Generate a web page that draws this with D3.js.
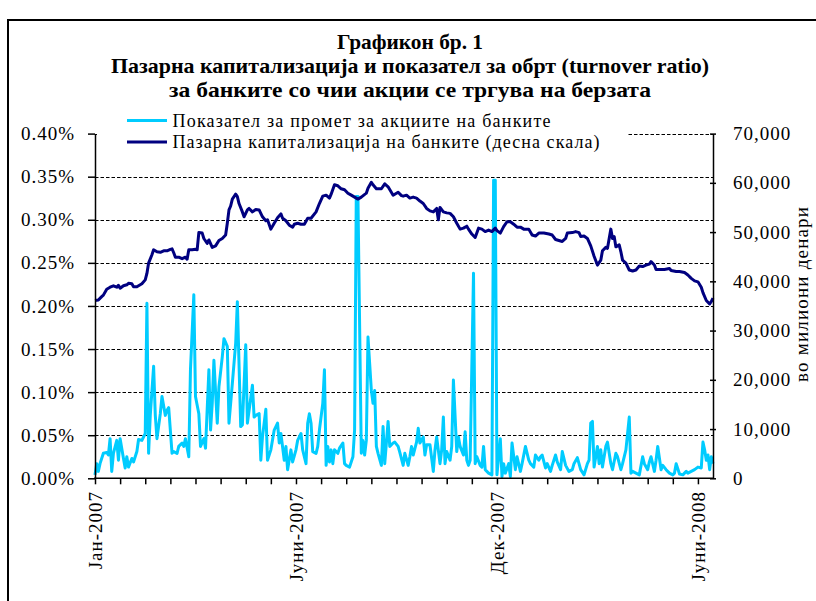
<!DOCTYPE html>
<html>
<head>
<meta charset="utf-8">
<script src="https://cdn.jsdelivr.net/npm/d3@7"></script>
<style>
	html, body { margin: 0; padding: 0; background: #fff; }
	svg { display: block; }
	text { font-family: "Liberation Serif", "Times New Roman", serif; fill: #000; }
</style>
</head>
<body>
<svg id="chart" width="816" height="601"></svg>
<script>
// turnover ratio of bank shares, [trading day, % of market cap]
const turnover = [
	[0,0.004],[1,0.017],[2,0.008],[3,0.017],[5,0.029],[7,0.030],[8,0.027],[9,0.046],[10,0.008],[11,0.029],
	[13,0.044],[14,0.021],[15,0.046],[17,0.023],[18,0.012],[19,0.025],[20,0.013],[22,0.023],[23,0.019],[25,0.031],
	[26,0.045],[28,0.044],[30,0.052],[31,0.203],[32,0.029],[33,0.073],[35,0.130],[36,0.073],[37,0.046],[39,0.075],
	[40,0.095],[42,0.073],[43,0.079],[44,0.082],[46,0.029],[47,0.031],[49,0.029],[50,0.037],[52,0.041],[53,0.037],
	[54,0.046],[56,0.025],[57,0.126],[59,0.213],[60,0.095],[62,0.075],[63,0.037],[65,0.046],[66,0.035],[68,0.126],
	[69,0.056],[70,0.087],[71,0.137],[73,0.064],[74,0.106],[76,0.141],[77,0.162],[79,0.153],[80,0.064],[82,0.110],
	[84,0.157],[85,0.205],[87,0.060],[88,0.062],[90,0.155],[91,0.064],[94,0.108],[95,0.071],[96,0.073],[98,0.075],
	[99,0.021],[100,0.048],[102,0.080],[103,0.021],[105,0.033],[107,0.056],[109,0.064],[110,0.041],[111,0.052],[113,0.021],
	[114,0.037],[115,0.010],[117,0.033],[118,0.019],[120,0.033],[121,0.044],[123,0.052],[124,0.033],[126,0.017],[127,0.064],
	[128,0.075],[129,0.064],[130,0.031],[132,0.029],[133,0.037],[134,0.056],[136,0.087],[137,0.126],[138,0.015],[139,0.037],
	[140,0.019],[141,0.033],[142,0.017],[143,0.033],[145,0.029],[146,0.035],[148,0.041],[149,0.017],[150,0.015],[152,0.013],
	[154,0.025],[155,0.056],[156,0.327],[157,0.327],[159,0.029],[160,0.044],[161,0.027],[162,0.044],[163,0.164],[165,0.102],
	[166,0.087],[167,0.102],[168,0.037],[169,0.029],[171,0.015],[172,0.060],[173,0.017],[175,0.066],[176,0.037],[178,0.041],
	[179,0.042],[181,0.037],[182,0.030],[184,0.015],[185,0.029],[187,0.015],[188,0.025],[189,0.037],[190,0.027],[192,0.042],
	[193,0.058],[194,0.041],[196,0.048],[197,0.027],[198,0.039],[200,0.039],[202,0.008],[203,0.033],[204,0.048],[206,0.017],
	[207,0.033],[208,0.071],[209,0.017],[210,0.031],[212,0.021],[213,0.037],[214,0.114],[216,0.031],[217,0.048],[218,0.037],
	[220,0.027],[221,0.054],[222,0.021],[223,0.015],[224,0.021],[226,0.238],[227,0.017],[228,0.025],[230,0.015],[231,0.013],
	[232,0.037],[233,0.010],[235,0.006],[237,0.004],[238,0.346],[239,0.346],[240,0.004],[242,0.046],[243,0.002],[244,0.017],
	[245,0.006],[247,0.017],[248,0.002],[249,0.041],[251,0.010],[252,0.025],[254,0.008],[255,0.017],[257,0.037],[259,0.021],
	[260,0.017],[262,0.013],[263,0.027],[265,0.021],[266,0.025],[267,0.027],[269,0.012],[270,0.017],[272,0.008],[273,0.015],
	[275,0.027],[276,0.019],[278,0.010],[279,0.031],[281,0.015],[283,0.008],[285,0.010],[286,0.017],[288,0.024],[290,0.010],
	[292,0.004],[294,0.017],[295,0.021],[296,0.064],[297,0.066],[298,0.013],[300,0.037],[301,0.017],[302,0.033],[303,0.013],
	[305,0.037],[306,0.042],[308,0.017],[309,0.010],[311,0.029],[312,0.025],[314,0.010],[315,0.017],[317,0.033],[319,0.071],
	[320,0.006],[321,0.008],[323,0.006],[325,0.004],[327,0.025],[328,0.017],[330,0.010],[331,0.019],[332,0.025],[334,0.008],
	[335,0.021],[336,0.037],[338,0.010],[339,0.015],[341,0.010],[343,0.006],[345,0.004],[346,0.006],[347,0.017],[349,0.005],
	[351,0.004],[353,0.008],[354,0.006],[356,0.008],[358,0.010],[360,0.013],[362,0.012],[363,0.042],[364,0.033],[365,0.021],
	[366,0.027],[367,0.010],[368,0.025],[369,0.017]
];

// market capitalisation of the banks, [trading day, million denars]
const marketCap = [
	[0,36100],[2,36200],[4,36900],[5,37200],[7,38400],[9,38800],[11,39100],[13,38800],[14,39200],[15,38600],
	[17,39100],[19,39300],[20,39600],[22,39500],[23,38900],[25,38900],[28,39500],[30,40300],[31,41600],[32,43700],
	[34,45400],[35,46400],[37,46000],[39,45900],[41,46200],[43,46200],[45,46500],[46,46600],[47,45800],[48,44900],
	[50,44900],[52,44600],[54,44900],[55,44500],[56,46400],[58,46400],[60,46500],[61,46400],[62,49900],[64,49800],
	[65,48700],[67,47700],[68,48400],[70,46900],[72,47200],[74,48300],[76,48700],[78,49400],[79,51800],[80,54500],
	[81,55300],[82,56700],[84,57700],[85,57200],[86,55800],[88,54100],[89,53100],[91,54500],[92,54800],[94,54100],
	[96,54600],[98,54500],[100,53100],[102,52300],[103,52500],[105,50600],[107,51800],[109,52900],[111,53700],[112,52800],
	[114,52300],[116,51400],[118,51000],[119,51600],[121,51800],[123,51600],[125,51600],[127,52800],[129,52800],[132,54100],
	[134,55800],[136,57300],[138,57500],[140,56900],[141,57700],[143,59600],[145,59400],[147,58800],[149,58600],[151,57900],
	[153,57500],[155,57100],[157,56700],[159,57100],[162,57900],[163,58900],[165,60100],[166,59600],[168,58800],[171,58800],
	[173,59800],[175,59200],[178,57500],[179,57700],[181,58100],[183,57400],[184,57300],[186,57500],[188,56900],[190,57100],
	[192,56900],[194,56300],[196,55800],[198,54800],[200,54300],[202,54100],[204,54800],[205,52500],[206,55000],[208,54100],
	[210,53900],[212,53800],[214,53100],[216,51800],[218,50600],[220,50800],[222,51200],[223,50600],[225,49600],[227,48900],
	[229,50800],[231,50600],[233,50100],[235,50400],[237,50100],[239,50800],[240,50300],[242,49800],[244,51100],[246,52100],
	[248,52100],[250,51600],[252,51000],[254,51000],[256,50600],[259,50600],[261,49400],[263,49200],[265,49800],[268,49800],
	[271,49600],[273,49400],[275,48500],[277,48300],[279,48100],[281,48700],[282,49800],[285,49900],[287,50100],[289,49900],
	[290,49100],[292,49200],[294,48700],[296,47200],[298,45100],[300,43300],[302,44300],[303,46200],[305,46900],[306,46700],
	[308,50600],[309,48700],[310,49100],[311,47000],[313,47400],[314,46000],[315,44300],[317,43700],[319,42300],[321,42100],
	[323,42300],[325,43100],[327,43000],[329,43300],[331,43500],[332,44000],[334,43300],[335,42400],[338,42400],[340,42400],
	[343,42600],[344,42200],[347,42000],[349,42000],[352,41800],[354,41300],[356,40600],[358,40100],[360,39900],[362,38800],
	[363,37700],[365,36100],[367,35400],[368,35900],[369,36600]
];

const dayCount = 370;
const xTickEvery = 15;
const xLabelDays = [0, 120, 240, 360];
const xLabelText = ["Јан-2007", "Јуни-2007", "Дек-2007", "Јуни-2008"];
const leftTicks = [0, 0.05, 0.10, 0.15, 0.20, 0.25, 0.30, 0.35, 0.40];
const rightTicks = [0, 10000, 20000, 30000, 40000, 50000, 60000, 70000];
const titleLines = [
	"Графикон бр. 1",
	"Пазарна капитализација и показател за обрт (turnover ratio)",
	"за банките со чии акции се тргува на берзата"
];
const legendLabels = [
	"Показател за промет за акциите на банките",
	"Пазарна капитализација на банките (десна скала)"
];
const rightAxisTitle = "во милиони денари";

(function () {
	const svg = d3.select("#chart");
	const colors = { turnover: "#00ccff", cap: "#000080" };
	const plot = { left: 95, right: 713, top: 133.6, bottom: 478.3 };
	const labelFont = 19;

	const x = d3.scaleLinear().domain([0, dayCount - 1]).range([plot.left, plot.right]);
	const yLeft = d3.scaleLinear().domain([0, 0.40]).range([plot.bottom, plot.top]);
	const yRight = d3.scaleLinear().domain([0, 70000]).range([plot.bottom, plot.top]);

	// outer frame, runs off the right and bottom edge
	svg.append("rect")
		.attr("x", 8).attr("y", 20)
		.attr("width", 840).attr("height", 640)
		.attr("fill", "none").attr("stroke", "#000").attr("stroke-width", 2);

	// title
	const titleWidths = [146, 598, 482];
	svg.append("g")
		.selectAll("text")
		.data(titleLines)
		.join("text")
		.attr("x", (d, i) => 410 - titleWidths[i] / 2)
		.attr("y", (d, i) => 49 + i * 24)
		.attr("font-size", 22)
		.attr("font-weight", "bold")
		.attr("textLength", (d, i) => titleWidths[i])
		.attr("lengthAdjust", "spacingAndGlyphs")
		.text((d) => d);

	// dashed grid from the left scale
	svg.append("g")
		.selectAll("line")
		.data(leftTicks.slice(1))
		.join("line")
		.attr("x1", plot.left).attr("x2", plot.right)
		.attr("y1", (d) => Math.round(yLeft(d)) + 0.5)
		.attr("y2", (d) => Math.round(yLeft(d)) + 0.5)
		.attr("stroke", "#000")
		.attr("stroke-width", 1.2)
		.attr("stroke-dasharray", "3.5,2");

	// series
	const lineTurn = d3.line().x((d) => x(d[0])).y((d) => yLeft(d[1]));
	const lineCap = d3.line().x((d) => x(d[0])).y((d) => yRight(d[1]));

	svg.append("path")
		.datum(turnover)
		.attr("d", lineTurn)
		.attr("fill", "none")
		.attr("stroke", colors.turnover)
		.attr("stroke-width", 3)
		.attr("stroke-linejoin", "round");

	svg.append("path")
		.datum(marketCap)
		.attr("d", lineCap)
		.attr("fill", "none")
		.attr("stroke", colors.cap)
		.attr("stroke-width", 3)
		.attr("stroke-linejoin", "round");

	// left axis
	const leftAxis = svg.append("g")
		.attr("transform", `translate(${plot.left},0)`)
		.call(d3.axisLeft(yLeft)
			.tickValues(leftTicks)
			.tickSizeInner(7)
			.tickSizeOuter(0)
			.tickPadding(13)
			.tickFormat((d) => d.toFixed(2) + "%"));

	// right axis, ticks cross the line
	const rightAxis = svg.append("g")
		.attr("transform", `translate(${plot.right},0)`)
		.call(d3.axisRight(yRight)
			.tickValues(rightTicks)
			.tickSizeInner(3)
			.tickSizeOuter(0)
			.tickPadding(17)
			.tickFormat(d3.format(",")));
	rightAxis.selectAll(".tick line").attr("x1", -3);

	// bottom axis
	const bottomAxis = svg.append("g")
		.attr("transform", `translate(0,${plot.bottom})`)
		.call(d3.axisBottom(x)
			.tickValues(d3.range(0, dayCount, xTickEvery))
			.tickSizeInner(6)
			.tickSizeOuter(0)
			.tickFormat(""));

	for (const g of [leftAxis, rightAxis, bottomAxis]) {
		g.select(".domain").attr("stroke", "#000").attr("stroke-width", 1.5);
		g.selectAll(".tick line").attr("stroke", "#000").attr("stroke-width", 1.5);
		g.selectAll(".tick text")
			.style("font-size", labelFont + "px")
			.attr("letter-spacing", 1)
			.attr("fill", "#000");
	}
	bottomAxis.select(".domain").attr("d", `M${plot.left - 1},0H${plot.right + 1}`);

	// month labels, rotated
	svg.append("g")
		.selectAll("text")
		.data(xLabelDays)
		.join("text")
		.attr("transform", (d) => `translate(${x(d) + 7},491) rotate(-90)`)
		.attr("text-anchor", "end")
		.style("font-size", labelFont + "px")
		.attr("letter-spacing", 1)
		.text((d, i) => xLabelText[i]);

	// right axis title
	svg.append("text")
		.attr("transform", "translate(808,382) rotate(-90)")
		.style("font-size", "19px")
		.attr("textLength", 175)
		.attr("lengthAdjust", "spacing")
		.text(rightAxisTitle);

	// legend
	const legend = svg.append("g");
	legend.append("rect")
		.attr("x", 97).attr("y", 111)
		.attr("width", 530).attr("height", 42)
		.attr("fill", "#fff");
	const legendColors = [colors.turnover, colors.cap];
	const legendWidths = [378, 427];
	const rows = legend.selectAll("g")
		.data(legendLabels)
		.join("g")
		.attr("transform", (d, i) => `translate(0,${120.5 + i * 21.5})`);
	rows.append("line")
		.attr("x1", 127).attr("x2", 167)
		.attr("stroke", (d, i) => legendColors[i])
		.attr("stroke-width", 3);
	rows.append("text")
		.attr("x", 172.5)
		.attr("y", 6)
		.style("font-size", "18px")
		.attr("textLength", (d, i) => legendWidths[i])
		.attr("lengthAdjust", "spacing")
		.text((d) => d);
})();
</script>
</body>
</html>
